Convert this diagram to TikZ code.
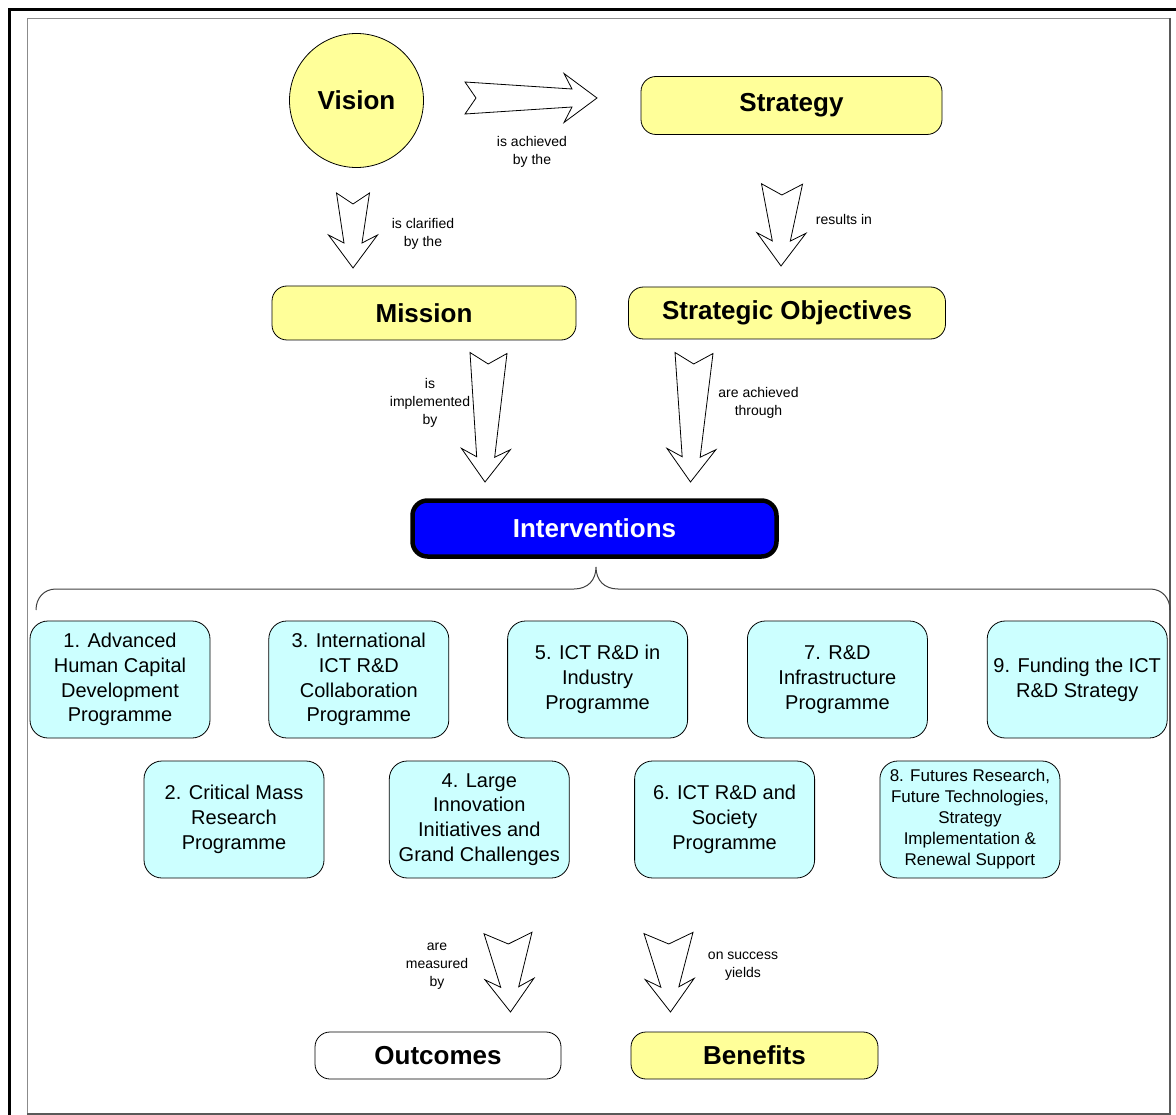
\documentclass[tikz,border=0pt]{standalone}
\usepackage{fontspec}
\setmainfont{Liberation Sans}
\usepackage{tikz}
\usetikzlibrary{calc, positioning}
\definecolor{paleyellow}{RGB}{255, 255, 153}
\definecolor{palecyan}{RGB}{204, 255, 255}
\definecolor{pureblue}{RGB}{0, 0, 255}
\definecolor{frame}{gray}{0.35}

% hollow block arrow from tail coordinate #1 to tip coordinate #2, tail half width #3
\newcommand{\fatarrow}[3]{%
    \draw[blockarrow]
    ($(#1)!#3!90:(#2)$)
    -- ($(#2)!25pt!(#1)!9pt!-90:(#1)$)
    -- ($(#2)!33pt!(#1)!24.5pt!-90:(#1)$)
    -- (#2)
    -- ($(#2)!33pt!(#1)!24.5pt!90:(#1)$)
    -- ($(#2)!25pt!(#1)!9pt!90:(#1)$)
    -- ($(#1)!#3!-90:(#2)$)
    -- ($(#1)!11pt!(#2)$)
    -- cycle;}

\tikzset{
    blockarrow/.style={draw=black, fill=white, line width=0.8pt, line join=miter},
    bigbox/.style={draw=black, line width=0.8pt, rounded corners=15pt, inner sep=0pt,
            font=\fontsize{26}{30}\selectfont\bfseries},
    progbox/.style={draw=black, line width=0.8pt, fill=palecyan, rounded corners=18pt,
            minimum width=180pt, minimum height=117pt, inner sep=0pt, align=center,
            font=\fontsize{20}{24.7}\selectfont},
    lbl/.style={align=center, inner sep=0pt, font=\fontsize{14}{18}\selectfont}
}

\begin{document}
\begin{tikzpicture}[x=1pt, y=-1pt]

    \useasboundingbox (0, 0) rectangle (1176, 1115);

    % frames
    \draw[line width=3pt] (9.5, 1115) -- (9.5, 10) -- (1176, 10);
    \draw[frame!70, line width=1pt] (27, 1113.5) -- (27, 18.5) -- (1169.5, 18.5);
    \draw[frame, line width=2pt] (1169.5, 18.5) -- (1169.5, 1113.5) -- (27, 1113.5);

    % top level
    \node[circle, draw=black, line width=0.8pt, fill=paleyellow, minimum size=134pt,
        inner sep=0pt, font=\fontsize{26}{30}\selectfont\bfseries] (vision) at (356.5, 100.5) {Vision};
    \node[bigbox, fill=paleyellow, minimum width=301pt, minimum height=58pt] (strategy) at (791.5, 105.5) {Strategy};
    \node[bigbox, fill=paleyellow, minimum width=304pt, minimum height=54pt] (mission) at (424, 313) {Mission};
    \node[bigbox, fill=paleyellow, minimum width=317pt, minimum height=52pt] (objectives) at (787, 313) {Strategic Objectives};
    \node[bigbox, fill=pureblue, text=white, line width=4.5pt, minimum width=364pt,
        minimum height=56pt] (interventions) at (594.5, 528.5) {Interventions};

    % block arrows
    \coordinate (visA) at (465, 98);
    \coordinate (visB) at (597, 98);
    \coordinate (clarA) at (353, 193);
    \coordinate (clarB) at (353, 268);
    \coordinate (resA) at (782, 184);
    \coordinate (resB) at (781, 266);
    \coordinate (implA) at (488.5, 353);
    \coordinate (implB) at (485, 482);
    \coordinate (thruA) at (694, 353);
    \coordinate (thruB) at (690.5, 482);
    \coordinate (measA) at (508, 933);
    \coordinate (measB) at (510.5, 1012);
    \coordinate (yieldA) at (668.5, 933);
    \coordinate (yieldB) at (670.5, 1012);

    \fatarrow{visA}{visB}{16pt}
    \fatarrow{clarA}{clarB}{16.5pt}
    \fatarrow{resA}{resB}{20.5pt}
    \fatarrow{implA}{implB}{18.5pt}
    \fatarrow{thruA}{thruB}{19pt}
    \fatarrow{measA}{measB}{24pt}
    \fatarrow{yieldA}{yieldB}{24.5pt}

    \node[lbl] (achievedlbl) at (532, 152) {is achieved\\by the};
    \node[lbl] (clarifiedlbl) at (423, 234) {is clarified\\by the};
    \node[lbl] (resultslbl) at (844, 219) {results in};
    \node[lbl] (implementedlbl) at (430, 403) {is\\implemented\\by};
    \node[lbl] (throughlbl) at (758.5, 402.5) {are achieved\\through};
    \node[lbl] (measuredlbl) at (437, 966) {are\\measured\\by};
    \node[lbl] (yieldslbl) at (743, 966) {on success\\yields};

    % brace under the interventions
    \draw[black!75, line width=1pt] (36, 610) .. controls (36, 598) and (44, 589) .. (56, 589)
    -- (574, 589) .. controls (588, 589) and (596, 580) .. (596, 567)
    .. controls (596, 580) and (604, 589) .. (618, 589)
    -- (1150, 589) .. controls (1162, 589) and (1170, 598) .. (1170, 610);

    % programmes
    \node[progbox] (prog1) at (120, 679.5) {1. Advanced\\Human Capital\\Development\\Programme};
    \node[progbox, right=58pt of prog1] (prog3) {3. International\\ICT R\&D\\Collaboration\\Programme};
    \node[progbox, right=58pt of prog3] (prog5) {5. ICT R\&D in\\Industry\\Programme};
    \node[progbox, right=59pt of prog5] (prog7) {7. R\&D\\Infrastructure\\Programme};
    \node[progbox, right=59pt of prog7] (prog9) {9. Funding the ICT\\R\&D Strategy};

    \node[progbox] (prog2) at (234, 819.5) {2. Critical Mass\\Research\\Programme};
    \node[progbox, right=64.5pt of prog2] (prog4) {4. Large\\Innovation\\Initiatives and\\Grand Challenges};
    \node[progbox, right=64.5pt of prog4] (prog6) {6. ICT R\&D and\\Society\\Programme};
    \node[progbox, right=64.5pt of prog6, font=\fontsize{17}{21}\selectfont] (prog8) {8. Futures Research,\\Future Technologies,\\Strategy\\Implementation \&\\Renewal Support};

    % results
    \node[bigbox, fill=white, minimum width=246pt, minimum height=47pt] (outcomes) at (438, 1055.5) {Outcomes};
    \node[bigbox, fill=paleyellow, minimum width=247pt, minimum height=47pt] (benefits) at (754.5, 1055.5) {Benefits};

\end{tikzpicture}
\end{document}
